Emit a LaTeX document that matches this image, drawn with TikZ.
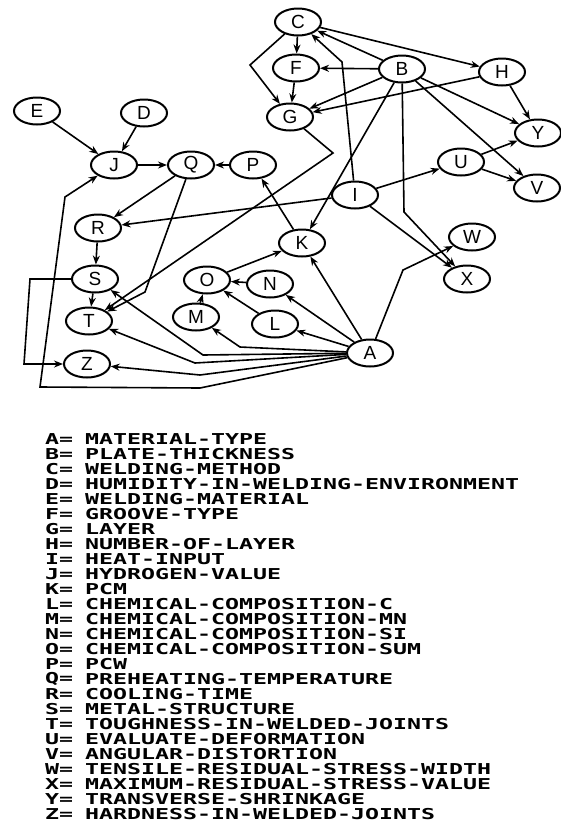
\documentclass[tikz,border=0pt]{standalone}
\usepackage{fontspec}
\setmainfont{Liberation Sans}
\newfontfamily\legendfont[FakeStretch=1.55]{DejaVu Sans Mono}
\usetikzlibrary{arrows.meta, shapes.geometric}

\begin{document}
\begin{tikzpicture}[x=1pt, y=-1pt, >={Stealth[length=9pt, width=7pt]},
  var/.style={draw, ellipse, line width=2pt, minimum width=46pt, minimum height=27pt, inner sep=0pt, font=\fontsize{19}{19}\selectfont},
  link/.style={->, line width=1.6pt},
  legend/.style={anchor=west, inner sep=0pt, font=\legendfont\bfseries\fontsize{15}{15}\selectfont}]
\useasboundingbox (0,0) rectangle (560,825);
% variables
\node[var] (C) at (298,22) {C};
\node[var] (F) at (296,68) {F};
\node[var] (G) at (290,117) {G};
\node[var] (B) at (402,69) {B};
\node[var] (H) at (502,72) {H};
\node[var] (Y) at (538,133) {Y};
\node[var] (U) at (461,162) {U};
\node[var] (V) at (537,188) {V};
\node[var] (I) at (355,195) {I};
\node[var] (W) at (472,237) {W};
\node[var] (X) at (467,279) {X};
\node[var] (K) at (302,243) {K};
\node[var] (P) at (253,165) {P};
\node[var] (Q) at (191,165) {Q};
\node[var] (J) at (114,165) {J};
\node[var] (E) at (37,111) {E};
\node[var] (D) at (144,113) {D};
\node[var] (R) at (98,228) {R};
\node[var] (S) at (95,279) {S};
\node[var] (T) at (89,321) {T};
\node[var] (Z) at (87,364) {Z};
\node[var] (O) at (207,280) {O};
\node[var] (N) at (270,284) {N};
\node[var] (M) at (196,317) {M};
\node[var] (L) at (275,324) {L};
\node[var] (A) at (370,353) {A};
% straight links
\foreach \s/\t in {C/F, C/H, F/G, B/F, B/C, B/G, H/G, B/Y, B/V, B/K, H/Y, U/Y, U/V, I/U, I/R, I/X, K/P, O/K, A/K, P/Q, J/Q, E/J, D/J, Q/R, R/S, S/T, A/L, A/N, L/O, N/O, M/O}
  \draw[link] (\s) -- (\t);
% bent links
\draw[link] (C) -- (250,65) -- (G);
\draw[link] (I) -- (342,62) -- (C);
\draw[link] (B) -- (404,212) -- (X);
\draw[link] (G) -- (333,153) -- (T);
\draw[link] (Q) -- (145,292) -- (T);
\draw[link] (S) -- (30,279) -- (24,364) -- (Z);
\draw[link] (A) -- (200,388) -- (40,387) -- (65,197) -- (J);
\draw[link] (A) -- (203,355) -- (S);
\draw[link] (A) -- (195,363) -- (T);
\draw[link] (A) -- (200,375) -- (Z);
\draw[link] (A) -- (240,347) -- (M);
\draw[link] (A) -- (403,270) -- (W);
% legend
\foreach \k/\v [count=\i from 0] in {A/MATERIAL-TYPE, B/PLATE-THICKNESS, C/WELDING-METHOD,
    D/HUMIDITY-IN-WELDING-ENVIRONMENT, E/WELDING-MATERIAL, F/GROOVE-TYPE, G/LAYER,
    H/NUMBER-OF-LAYER, I/HEAT-INPUT, J/HYDROGEN-VALUE, K/PCM, L/CHEMICAL-COMPOSITION-C,
    M/CHEMICAL-COMPOSITION-MN, N/CHEMICAL-COMPOSITION-SI, O/CHEMICAL-COMPOSITION-SUM,
    P/PCW, Q/PREHEATING-TEMPERATURE, R/COOLING-TIME, S/METAL-STRUCTURE,
    T/TOUGHNESS-IN-WELDED-JOINTS, U/EVALUATE-DEFORMATION, V/ANGULAR-DISTORTION,
    W/TENSILE-RESIDUAL-STRESS-WIDTH, X/MAXIMUM-RESIDUAL-STRESS-VALUE,
    Y/TRANSVERSE-SHRINKAGE, Z/HARDNESS-IN-WELDED-JOINTS} {
  \node[legend] (key\k) at (45,439+15*\i) {\k=};
  \node[legend] (val\k) at (85,439+15*\i) {\v};
}
\end{tikzpicture}
\end{document}
